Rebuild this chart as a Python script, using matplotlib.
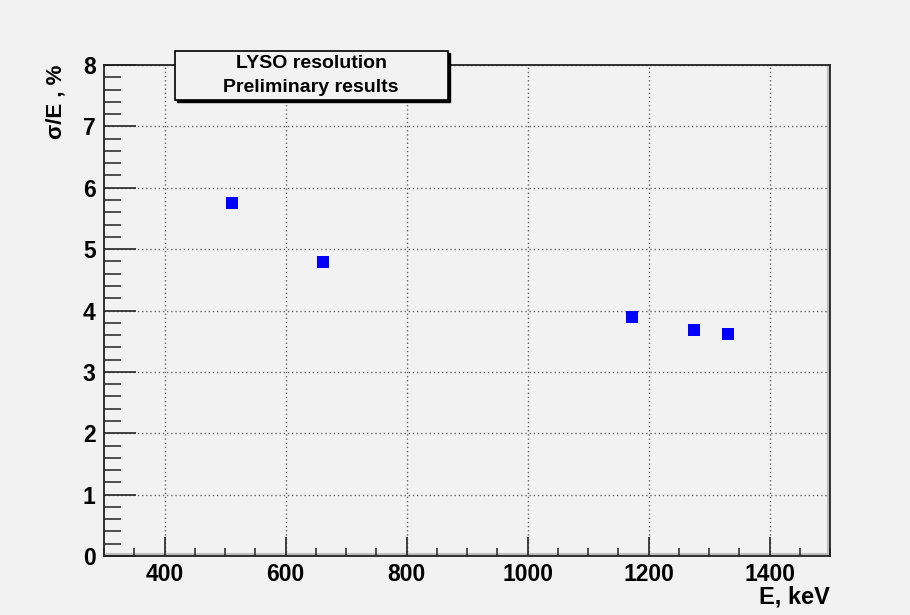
import matplotlib
matplotlib.use("Agg")
from matplotlib import pyplot as plt
from matplotlib.ticker import MultipleLocator

# measured points: gamma line energy and resolution
energy_kev = [511, 662, 1173, 1275, 1332]
sigma_pct = [5.75, 4.79, 3.90, 3.69, 3.61]

legend_lines = ["LYSO resolution", "Preliminary results"]

plt.rcParams['font.family'] = ['Liberation Sans', 'DejaVu Sans']
bg = '#f2f2f2'

fig = plt.figure(figsize=(9.1, 6.15), dpi=100, facecolor=bg)
ax = fig.add_axes([104/910, 1 - 556/615, 726/910, 491/615])
ax.set_facecolor(bg)

ax.plot(energy_kev, sigma_pct, 's', color='#0000ff', markersize=8.5, markeredgewidth=0, zorder=4)

ax.set_xlim(300, 1500)
ax.set_ylim(0, 8)
ax.xaxis.set_major_locator(MultipleLocator(200))
ax.xaxis.set_minor_locator(MultipleLocator(50))
ax.yaxis.set_major_locator(MultipleLocator(1))
ax.yaxis.set_minor_locator(MultipleLocator(0.2))

ax.tick_params(axis='x', which='major', direction='in', length=14, width=1.3,
               labelsize=16.5, pad=5, colors='#333333', labelcolor='black')
ax.tick_params(axis='x', which='minor', direction='in', length=6, width=1.2, colors='#333333')
ax.tick_params(axis='y', which='major', direction='in', length=23, width=1.3,
               labelsize=16.5, pad=6, colors='#333333', labelcolor='black')
ax.tick_params(axis='y', which='minor', direction='in', length=12, width=1.2, colors='#333333')
for lab in ax.get_xticklabels() + ax.get_yticklabels():
    lab.set_fontweight('bold')

ax.grid(True, which='major', linestyle=(0, (1, 2)), color='#666666', linewidth=1.0)

for s in ax.spines.values():
    s.set_color('#222222')
    s.set_linewidth(1.3)

# ROOT style bevel shadow along bottom and right edges
ax.plot([300, 1500], [0.035, 0.035], color='#bdbdbd', linewidth=2.2, solid_capstyle='butt', zorder=1.5)
ax.plot([1496.5, 1496.5], [0, 8], color='#bdbdbd', linewidth=2.2, solid_capstyle='butt', zorder=1.5)

ax.set_xlabel("E, keV", fontsize=17, fontweight='bold', loc='right', labelpad=0)
ax.set_ylabel("σ/E , %", fontsize=16, fontweight='bold', loc='top', labelpad=12)

# legend-like pave box with shadow
fig.patches.append(plt.Rectangle((177/910, 1 - 102/615), 273/910, 49/615,
                                 transform=fig.transFigure, facecolor='black',
                                 edgecolor='black', zorder=5))
fig.patches.append(plt.Rectangle((175/910, 1 - 100/615), 273/910, 49/615,
                                 transform=fig.transFigure, facecolor=bg,
                                 edgecolor='black', linewidth=1.2, zorder=6))
fig.text(311/910, 1 - 64/615, legend_lines[0], ha='center', va='center',
         fontsize=14, fontweight='bold', zorder=7)
fig.text(311/910, 1 - 87/615, legend_lines[1], ha='center', va='center',
         fontsize=14, fontweight='bold', zorder=7)

plt.savefig('out.png', dpi=100, facecolor=bg)
